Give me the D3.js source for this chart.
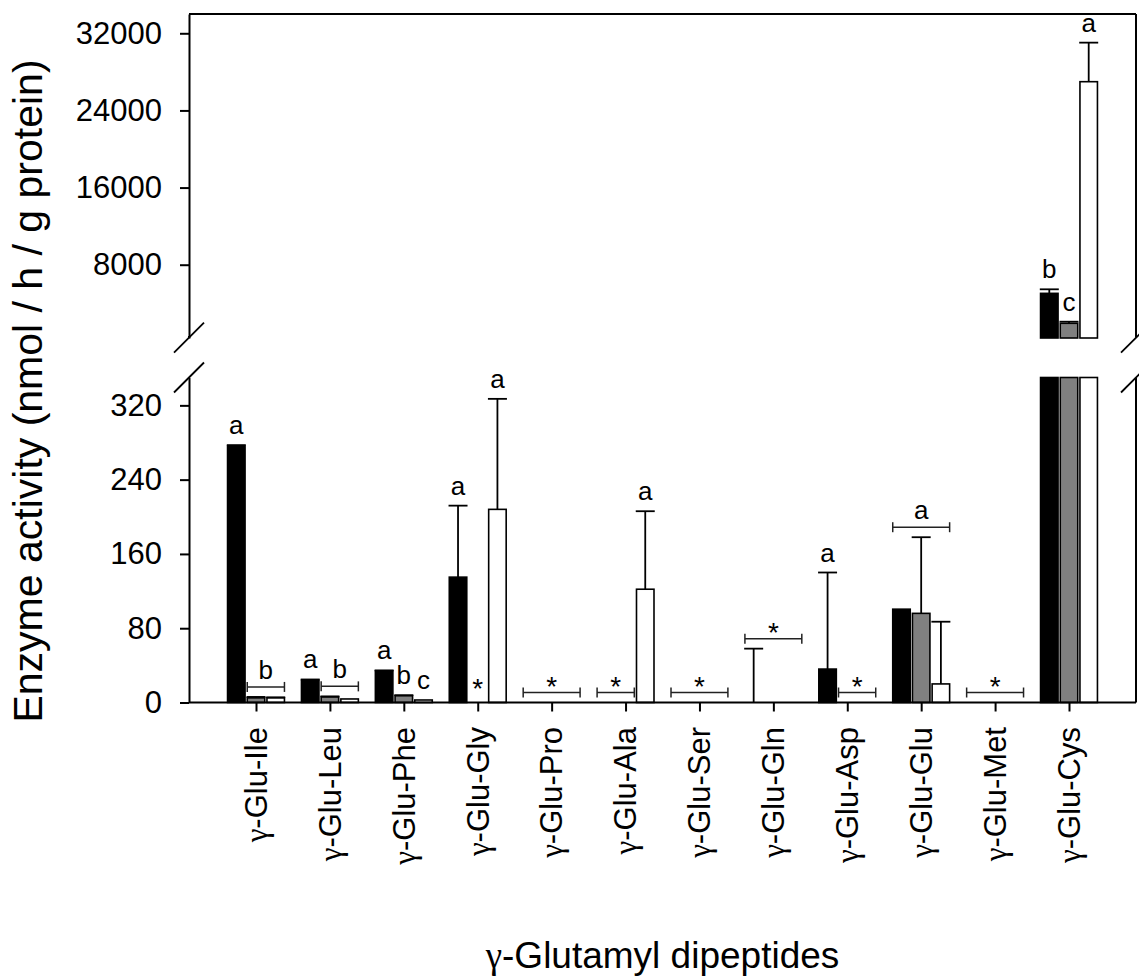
<!DOCTYPE html>
<html>
<head>
<meta charset="utf-8">
<script src="https://cdn.jsdelivr.net/npm/d3@7"></script>
<style>
  body { margin: 0; background: #fff; }
  svg text { font-family: "Liberation Sans", Arial, sans-serif; fill: #000; }
</style>
</head>
<body>
<svg id="chart" width="1139" height="977"></svg>
<script>
// γ-glutamyl dipeptide substrates (x categories)
const categories = ["Ile", "Leu", "Phe", "Gly", "Pro", "Ala", "Ser", "Gln", "Asp", "Glu", "Met", "Cys"];

// Mean enzyme activity (nmol / h / g protein) and SE for the three groups
const meanBlack = [276, 24, 34, 135, 0, 0, 0, 0, 36, 100.5, 0, 5030];
const errBlack  = [1.2, 0.8, 0.6, 77, 0, 0, 0, 58, 104, 0, 0, 420];
const meanGray  = [5, 6, 7.3, 0, 0, 0, 0, 0, 0, 96, 0, 1925];
const errGray   = [1, 0.6, 0.6, 0, 0, 0, 0, 0, 0, 82, 0, 165];
const meanWhite = [5, 3.8, 2.7, 208, 0, 122, 0, 0, 0, 20, 0, 26980];
const errWhite  = [0.6, 0, 0, 119, 0, 84, 0, 0, 0, 67, 0, 4050];

// Tick values for the two segments of the broken y axis
const upperTicks = [8000, 16000, 24000, 32000];
const lowerTicks = [0, 80, 160, 240, 320];

// Significance letters placed above single bars: [substrate, group index, label]
const barLetters = [
  ["Ile", 0, "a"], ["Leu", 0, "a"],
  ["Phe", 0, "a"], ["Phe", 1, "b"], ["Phe", 2, "c"],
  ["Gly", 0, "a"], ["Gly", 1, "*"], ["Gly", 2, "a"],
  ["Ala", 2, "a"], ["Asp", 0, "a"],
  ["Cys", 0, "b"], ["Cys", 1, "c"], ["Cys", 2, "a"]
];

// Brackets spanning several bars: [substrate, first group, last group, label]
const brackets = [
  ["Ile", 1, 2, "b"], ["Leu", 1, 2, "b"], ["Pro", 0, 2, "*"],
  ["Ala", 0, 1, "*"], ["Ser", 0, 2, "*"], ["Gln", 0, 2, "*"],
  ["Asp", 1, 2, "*"], ["Glu", 0, 2, "a"], ["Met", 0, 2, "*"]
];

const means = [meanBlack, meanGray, meanWhite];
const errs = [errBlack, errGray, errWhite];
const fills = ["#000000", "#808080", "#ffffff"];

const svg = d3.select("#chart");

const X0 = 189, X1 = 1136;
const LOW_MAX = 350, UP_MIN = 400;
const yUp = d3.scaleLinear().domain([UP_MIN, 34000]).range([338, 14]);
const yLo = d3.scaleLinear().domain([0, LOW_MAX]).range([702.5, 377.5]);
const x = d3.scalePoint().domain(categories).range([256, 1069]);
const sub = d3.scalePoint().domain([0, 1, 2]).range([-19.7, 19.7]);
const BW = 17.5, CAP = 19;

const rows = categories.flatMap((c, i) =>
  [0, 1, 2].map(s => ({ c, s, v: means[s][i], e: errs[s][i] })));
const rowOf = (c, s) => rows.find(r => r.c === c && r.s === s);
const cx = d => x(d.c) + sub(d.s);
const panelOf = d => (d.v > LOW_MAX ? yUp : yLo);
const topY = d => panelOf(d)(d.v + d.e);

// ---- bars, lower segment (clipped at the break) ----
svg.append("g").selectAll("rect").data(rows).join("rect")
  .attr("x", d => cx(d) - BW / 2)
  .attr("y", d => yLo(Math.min(d.v, LOW_MAX)))
  .attr("width", BW)
  .attr("height", d => yLo(0) - yLo(Math.min(d.v, LOW_MAX)))
  .attr("fill", d => fills[d.s])
  .attr("stroke", "#000").attr("stroke-width", 1.6);

// ---- bars, upper segment ----
svg.append("g").selectAll("rect").data(rows.filter(d => d.v > UP_MIN)).join("rect")
  .attr("x", d => cx(d) - BW / 2)
  .attr("y", d => yUp(d.v))
  .attr("width", BW)
  .attr("height", d => yUp(UP_MIN) - yUp(d.v))
  .attr("fill", d => fills[d.s])
  .attr("stroke", "#000").attr("stroke-width", 1.6);

// ---- error bars (upper half only) ----
const eg = svg.append("g").attr("stroke", "#000").attr("stroke-width", 1.8);
rows.filter(d => d.e > 0).forEach(d => {
  const y = panelOf(d);
  eg.append("line").attr("x1", cx(d)).attr("x2", cx(d))
    .attr("y1", y(d.v)).attr("y2", y(d.v + d.e));
  eg.append("line").attr("x1", cx(d) - CAP / 2).attr("x2", cx(d) + CAP / 2)
    .attr("y1", y(d.v + d.e)).attr("y2", y(d.v + d.e));
});

// ---- letters over bars ----
const lg = svg.append("g").attr("text-anchor", "middle");
barLetters.forEach(([c, s, t]) => {
  const d = rowOf(c, s);
  lg.append("text").attr("x", cx(d))
    .attr("y", topY(d) - (t === "*" ? 5 : 11))
    .attr("font-size", t === "*" ? 28 : 26).text(t);
});

// ---- brackets with letters ----
const bg = svg.append("g");
brackets.forEach(([c, i, j, t]) => {
  const xa = x(c) + sub(i) - BW / 2;
  const xb = x(c) + sub(j) + BW / 2;
  const spanned = d3.range(i, j + 1).map(s => topY(rowOf(c, s)));
  const yb = d3.min(spanned) - 10;
  const g = bg.append("g").attr("stroke", "#222").attr("stroke-width", 1.5);
  g.append("line").attr("x1", xa).attr("x2", xb).attr("y1", yb).attr("y2", yb);
  g.append("line").attr("x1", xa).attr("x2", xa).attr("y1", yb - 5).attr("y2", yb + 5);
  g.append("line").attr("x1", xb).attr("x2", xb).attr("y1", yb - 5).attr("y2", yb + 5);
  bg.append("text").attr("x", (xa + xb) / 2)
    .attr("y", t === "*" ? yb + 3 : yb - 8)
    .attr("text-anchor", "middle")
    .attr("font-size", t === "*" ? 28 : 26).text(t);
});

// ---- y axes (two segments) ----
function styleAxis(g) {
  g.selectAll("path, line").attr("stroke", "#000").attr("stroke-width", 2);
  g.selectAll("text").attr("font-size", 31).attr("fill", "#000")
    .attr("font-family", "Liberation Sans, Arial, sans-serif");
}
const plain = d3.format("d");
svg.append("g").attr("transform", `translate(${X0},0)`)
  .call(d3.axisLeft(yUp).tickValues(upperTicks).tickFormat(plain)
    .tickSize(9).tickSizeOuter(0).tickPadding(18))
  .call(styleAxis);
svg.append("g").attr("transform", `translate(${X0},0)`)
  .call(d3.axisLeft(yLo).tickValues(lowerTicks).tickFormat(plain)
    .tickSize(9).tickSizeOuter(0).tickPadding(18))
  .call(styleAxis);

// ---- frame ----
const fg = svg.append("g").attr("stroke", "#000").attr("stroke-width", 2).attr("fill", "none");
fg.append("line").attr("x1", X0).attr("x2", X1).attr("y1", yUp.range()[1]).attr("y2", yUp.range()[1]);
fg.append("line").attr("x1", X0).attr("x2", X1).attr("y1", yLo(0)).attr("y2", yLo(0));
fg.append("line").attr("x1", X1).attr("x2", X1).attr("y1", yUp.range()[1]).attr("y2", 337.7);
fg.append("line").attr("x1", X1).attr("x2", X1).attr("y1", 377.5).attr("y2", yLo(0));
fg.append("line").attr("x1", X0).attr("x2", X0).attr("y1", 336).attr("y2", 337.7);

// break marks on both sides
[X0, X1].forEach(bx => {
  [337.7, 377.5].forEach(by => {
    fg.append("line").attr("stroke-width", 1.8)
      .attr("x1", bx - 15).attr("y1", by + 15)
      .attr("x2", bx + 15).attr("y2", by - 15);
  });
});

// ---- x axis ticks and rotated labels ----
const xg = svg.append("g").attr("transform", `translate(0,${yLo(0)})`)
  .call(d3.axisBottom(x).tickSize(9).tickSizeOuter(0).tickFormat(""));
xg.select(".domain").remove();
xg.selectAll("line").attr("stroke", "#000").attr("stroke-width", 2);

const xl = svg.append("g");
categories.forEach(c => {
  const t = xl.append("text")
    .attr("transform", `translate(${x(c)},727) rotate(-90)`)
    .attr("text-anchor", "end").attr("dy", "0.35em")
    .attr("font-size", 31);
  t.append("tspan").attr("font-family", "Liberation Serif, serif").text("γ");
  t.append("tspan").text("-Glu-" + c);
});

// ---- axis titles ----
const xt = svg.append("text").attr("x", (X0 + X1) / 2).attr("y", 968)
  .attr("text-anchor", "middle").attr("font-size", 37);
xt.append("tspan").attr("font-family", "Liberation Serif, serif").text("γ");
xt.append("tspan").text("-Glutamyl dipeptides");

svg.append("text")
  .attr("transform", "translate(42,391) rotate(-90)")
  .attr("text-anchor", "middle").attr("font-size", 41)
  .text("Enzyme activity (nmol / h / g protein)");
</script>
</body>
</html>
